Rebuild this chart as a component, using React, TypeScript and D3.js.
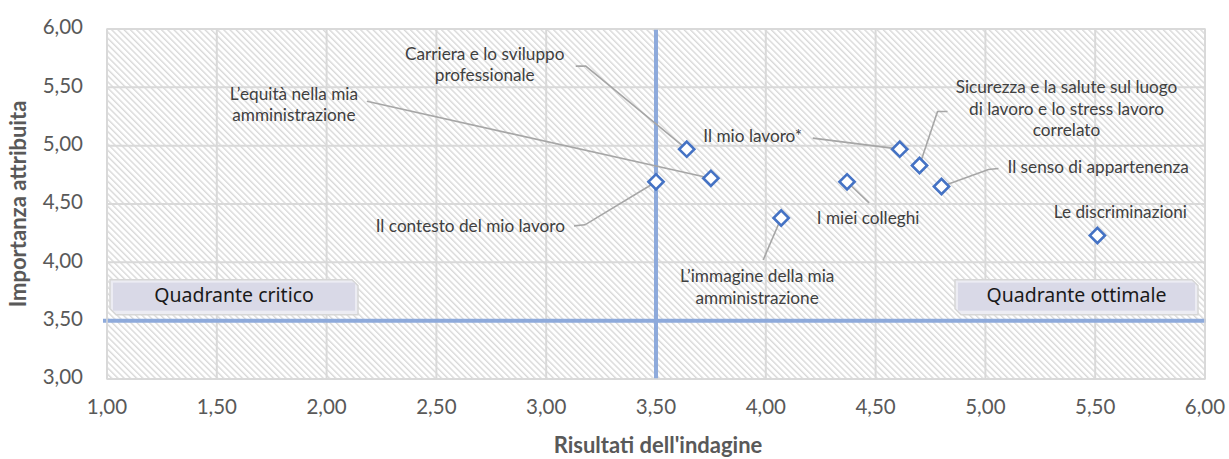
import React from 'react';
import * as d3 from 'd3';

// Dati
const labels = [
  'Carriera e lo sviluppo|professionale',
  "L\u2019equità nella mia|amministrazione",
  'Il contesto del mio lavoro',
  "L\u2019immagine della mia|amministrazione",
  'I miei colleghi',
  'Il mio lavoro*',
  'Sicurezza e la salute sul luogo|di lavoro e lo stress lavoro|correlato',
  'Il senso di appartenenza',
  'Le discriminazioni',
];
const risultati = [3.64, 3.75, 3.5, 4.07, 4.37, 4.61, 4.7, 4.8, 5.51];
const importanza = [4.97, 4.72, 4.69, 4.38, 4.69, 4.97, 4.83, 4.65, 4.23];

const xTicks = [1, 1.5, 2, 2.5, 3, 3.5, 4, 4.5, 5, 5.5, 6];
const yTicks = [3, 3.5, 4, 4.5, 5, 5.5, 6];
const soglia = 3.5;

// posizionamento etichette (offset in pixel rispetto al punto)
// anchor, dx, dy (centro della prima riga), leader: punti intermedi relativi al punto
type Layout = { anchor: string; dx: number; dy: number; leader: [number, number][] };
const layout: Layout[] = [
  { anchor: 'middle', dx: -202, dy: -94, leader: [[-111, -83], [-101, -83]] },
  { anchor: 'middle', dx: -417, dy: -83, leader: [[-344, -77]] },
  { anchor: 'end', dx: -91, dy: 46, leader: [[-82, 44], [-71, 43]] },
  { anchor: 'middle', dx: -24, dy: 60, leader: [[-18, 42]] },
  { anchor: 'middle', dx: 21, dy: 38, leader: [[22, 21]] },
  { anchor: 'middle', dx: -147, dy: -12, leader: [[-87, -11]] },
  { anchor: 'middle', dx: 147, dy: -77, leader: [[28, -54], [18, -54]] },
  { anchor: 'start', dx: 66, dy: -18, leader: [[57, -18], [47, -17]] },
  { anchor: 'middle', dx: 23, dy: -22, leader: [] },
];

const W = 1229;
const H = 459;
const margin = { left: 107, right: 24, top: 29, bottom: 80 };

const fmt = (v: number) => v.toFixed(2).replace('.', ',');

export default function App() {
  const x = d3.scaleLinear().domain([1, 6]).range([margin.left, W - margin.right]);
  const y = d3.scaleLinear().domain([3, 6]).range([H - margin.bottom, margin.top]);
  const x0 = x(1), x1 = x(6), y0 = y(3), y1 = y(6);

  const diamond = d3.symbol().type(d3.symbolSquare).size(115)();
  const line = d3.line<[number, number]>();

  const labelFont = 'Lato, "Open Sans", sans-serif';

  return (
    <svg width={W} height={H} style={{ position: 'absolute', left: 0, top: 0, background: '#fff' }}>
      <defs>
        <pattern id="hatch" width={4.4} height={4.4} patternUnits="userSpaceOnUse" patternTransform="rotate(-45)">
          <rect width={4.4} height={4.4} fill="#ffffff" />
          <line x1={0.7} y1={0} x2={0.7} y2={4.4} stroke="#d9d9d9" strokeWidth={1.4} />
        </pattern>
      </defs>

      <rect x={x0} y={y1} width={x1 - x0} height={y0 - y1} fill="url(#hatch)" />

      {/* griglia */}
      {xTicks.map((t) => (
        <line key={'gx' + t} x1={x(t)} x2={x(t)} y1={y1} y2={y0} stroke="#d9d9d9" strokeWidth={2} />
      ))}
      {yTicks.map((t) => (
        <line key={'gy' + t} x1={x0} x2={x1} y1={y(t)} y2={y(t)} stroke="#d9d9d9" strokeWidth={2} />
      ))}

      {/* linee soglia */}
      <line x1={x(soglia)} x2={x(soglia)} y1={y1} y2={y0} stroke="#8eaadb" strokeWidth={4} />
      <line x1={x0 - 4} x2={x1 + 1} y1={y(soglia)} y2={y(soglia)} stroke="#8eaadb" strokeWidth={4} />

      {/* riquadri quadranti */}
      {[
        { text: 'Quadrante critico', xl: x0 + 3, w: 248 },
        { text: 'Quadrante ottimale', xl: x1 - 250, w: 243 },
      ].map((q) => {
        const top = y(soglia) - 41;
        const h = 35;
        const b = 6;
        const p = `M${q.xl},${top} L${q.xl + q.w - b},${top} L${q.xl + q.w},${top + b} L${q.xl + q.w},${top + h} L${q.xl + b},${top + h} L${q.xl},${top + h - b} Z`;
        return (
          <g key={q.text}>
            <path d={p} fill="#ececf3" stroke="#d6d6d6" strokeWidth={1.5} />
            <rect x={q.xl + 3} y={top + 3} width={q.w - 6} height={h - 7} fill="#d9d9e7" />
            <text
              x={q.xl + q.w / 2}
              y={top + h / 2}
              textAnchor="middle"
              dominantBaseline="middle"
              fontFamily='"Noto Sans", sans-serif'
              fontSize={19.5}
              fill="#1a1a1a"
            >
              {q.text}
            </text>
          </g>
        );
      })}

      {/* leader */}
      {labels.map((_, i) => {
        const px = x(risultati[i]);
        const py = y(importanza[i]);
        const L = layout[i];
        if (!L.leader.length) return null;
        const pts: [number, number][] = L.leader.map(([a, b]) => [px + a, py + b]);
        const last = pts[pts.length - 1];
        const ang = Math.atan2(py - last[1], px - last[0]);
        pts.push([px - Math.cos(ang) * 6, py - Math.sin(ang) * 6]);
        return <path key={'ld' + i} d={line(pts) || ''} fill="none" stroke="#a6a6a6" strokeWidth={1.6} />;
      })}

      {/* punti */}
      {labels.map((_, i) => (
        <path
          key={'pt' + i}
          d={diamond || ''}
          transform={`translate(${x(risultati[i])},${y(importanza[i])}) rotate(45)`}
          fill="#ffffff"
          stroke="#4472c4"
          strokeWidth={2.6}
        />
      ))}

      {/* etichette */}
      {labels.map((lab, i) => {
        const L = layout[i];
        const px = x(risultati[i]) + L.dx;
        const py = y(importanza[i]) + L.dy;
        return (
          <text
            key={'lb' + i}
            textAnchor={L.anchor as any}
            fontFamily={labelFont}
            fontSize={17.2}
            fill="#404040"
          >
            {lab.split('|').map((s, k) => (
              <tspan key={k} x={px} y={py + k * 21.8} dominantBaseline="middle">
                {s}
              </tspan>
            ))}
          </text>
        );
      })}

      {/* bordo */}
      <rect x={x0} y={y1} width={x1 - x0} height={y0 - y1} fill="none" stroke="#d9d9d9" strokeWidth={1.5} />

      {/* assi */}
      {yTicks.map((t) => (
        <text key={'ty' + t} x={x0 - 24} y={y(t)} textAnchor="end" dominantBaseline="middle" fontFamily={labelFont} fontSize={20.5} fill="#595959">
          {fmt(t)}
        </text>
      ))}
      {xTicks.map((t) => (
        <text key={'tx' + t} x={x(t)} y={y0 + 30} textAnchor="middle" dominantBaseline="middle" fontFamily={labelFont} fontSize={20.5} fill="#595959">
          {fmt(t)}
        </text>
      ))}
      <text
        x={x((1 + 6) / 2) + 2}
        y={H - 12}
        textAnchor="middle"
        dominantBaseline="middle"
        fontFamily={labelFont}
        fontWeight="bold"
        fontSize={22}
        fill="#595959"
      >
        Risultati dell'indagine
      </text>
      <text
        transform={`translate(20,${(y0 + y1) / 2}) rotate(-90)`}
        textAnchor="middle"
        dominantBaseline="middle"
        fontFamily={labelFont}
        fontWeight="bold"
        fontSize={22}
        fill="#595959"
      >
        Importanza attribuita
      </text>
    </svg>
  );
}
